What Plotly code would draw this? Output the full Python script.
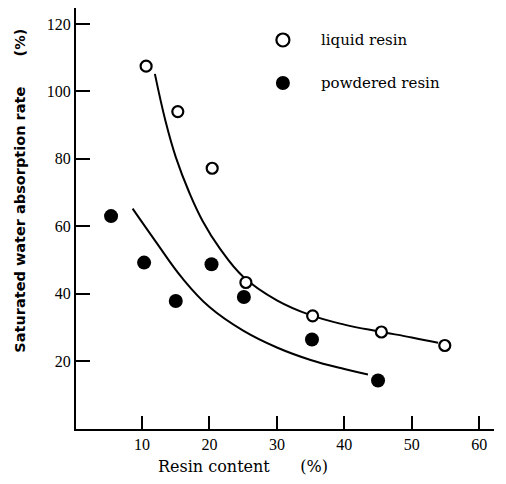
import plotly.graph_objects as go

# Measured points
liquid_x = [10.6, 15.3, 20.4, 25.4, 35.3, 45.5, 54.9]
liquid_y = [107.5, 94.0, 77.2, 43.3, 33.4, 28.6, 24.6]

powder_x = [5.4, 10.3, 15.0, 20.3, 25.1, 35.2, 45.0]
powder_y = [63.0, 49.2, 37.8, 48.7, 39.0, 26.4, 14.2]

# Hand-drawn trend curves
liquid_curve_x = [11.9, 13.5, 15.0, 17.0, 19.0, 21.5, 25.0, 30.0, 35.0, 40.0, 45.0, 50.0, 53.9]
liquid_curve_y = [105.2, 91.0, 80.5, 70.0, 61.5, 53.5, 45.0, 38.0, 33.6, 30.8, 28.8, 27.0, 25.4]

powder_curve_x = [8.6, 12.0, 16.0, 20.0, 25.0, 30.0, 35.0, 40.0, 43.5]
powder_curve_y = [65.2, 55.5, 44.5, 36.0, 29.0, 24.0, 20.3, 17.6, 16.0]

x_ticks = [10, 20, 30, 40, 50, 60]
y_ticks = [20, 40, 60, 80, 100, 120]

legend_labels = ["liquid resin", "powdered resin"]

SERIF = "DejaVu Serif"
NUM = "Liberation Serif"

fig = go.Figure()

curve_line = dict(color="black", width=2, shape="spline", smoothing=1.2)
fig.add_trace(go.Scatter(x=liquid_curve_x, y=liquid_curve_y, mode="lines",
                         line=curve_line, showlegend=False, hoverinfo="skip"))
fig.add_trace(go.Scatter(x=powder_curve_x, y=powder_curve_y, mode="lines",
                         line=curve_line, showlegend=False, hoverinfo="skip"))

fig.add_trace(go.Scatter(x=liquid_x, y=liquid_y, mode="markers", name=legend_labels[0],
                         marker=dict(size=11, color="white", line=dict(color="black", width=2.2)),
                         showlegend=False))
fig.add_trace(go.Scatter(x=powder_x, y=powder_y, mode="markers", name=legend_labels[1],
                         marker=dict(size=14, color="black", line=dict(width=0)),
                         showlegend=False))

# Key: symbols and labels placed in the upper right of the plot area
key_x = 0.495
key_text_x = 0.581
key_rows = [0.924, 0.822]
shapes = [
    dict(type="circle", xref="paper", yref="paper", xsizemode="pixel", ysizemode="pixel",
         xanchor=key_x, yanchor=key_rows[0], x0=-6.5, x1=6.5, y0=-6.5, y1=6.5,
         fillcolor="white", line=dict(color="black", width=2.2)),
    dict(type="circle", xref="paper", yref="paper", xsizemode="pixel", ysizemode="pixel",
         xanchor=key_x, yanchor=key_rows[1], x0=-7, x1=7, y0=-7, y1=7,
         fillcolor="black", line=dict(color="black", width=0)),
]
annotations = [
    dict(text=legend_labels[i], xref="paper", yref="paper", x=key_text_x, y=key_rows[i],
         xanchor="left", yanchor="middle", showarrow=False,
         font=dict(family=SERIF, size=15, color="black"))
    for i in range(2)
]

nb = "\u00a0"
annotations.append(dict(
    text="Saturated water absorption rate" + nb * 6 + "(%)",
    xref="paper", yref="paper", x=-0.134, y=0.566, textangle=-90,
    xanchor="center", yanchor="middle", showarrow=False,
    font=dict(family="DejaVu Sans", size=14.5, color="black", weight="bold")))
annotations.append(dict(
    text="Resin content" + nb * 6 + "(%)",
    xref="paper", yref="paper", x=0.40, y=-0.09,
    xanchor="center", yanchor="middle", showarrow=False,
    font=dict(family=SERIF, size=16, color="black")))

fig.update_layout(
    width=506, height=484,
    margin=dict(l=76, r=12, t=8, b=55),
    paper_bgcolor="white", plot_bgcolor="white",
    shapes=shapes, annotations=annotations,
    showlegend=False,
)

fig.update_xaxes(
    range=[0.2, 62.2], tickvals=x_ticks, ticktext=[str(v) for v in x_ticks],
    showgrid=False, zeroline=False, showline=True, linecolor="black", linewidth=2,
    ticks="inside", ticklen=13, tickwidth=2, tickcolor="black",
    tickfont=dict(family=NUM, size=16, color="black"),
)
fig.update_yaxes(
    range=[-0.18, 124.75], tickvals=y_ticks, ticktext=[str(v) for v in y_ticks],
    showgrid=False, zeroline=False, showline=True, linecolor="black", linewidth=2,
    ticks="inside", ticklen=14, tickwidth=2, tickcolor="black",
    tickfont=dict(family=NUM, size=16, color="black"),
)

fig.write_html("out.html")
